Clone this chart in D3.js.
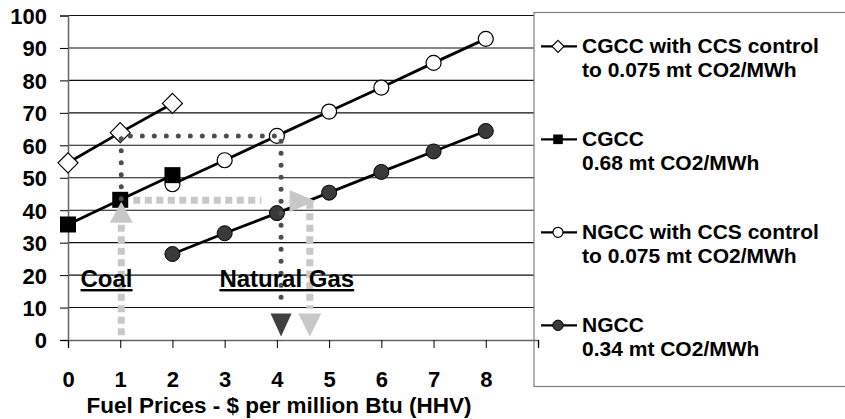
<!DOCTYPE html>
<html>
<head>
<meta charset="utf-8">
<script src="https://cdn.jsdelivr.net/npm/d3@7"></script>
<style>
  body { margin: 0; background: #fff; }
  svg text { font-family: Arial, "Liberation Sans", sans-serif; font-weight: bold; fill: #000; }
</style>
</head>
<body>
<svg id="chart" width="845" height="419"></svg>
<script>
// fuel price ($/million Btu) on x, cost of electricity on y
const coalPrices = [0, 1, 2];
const gasPrices = [2, 3, 4, 5, 6, 7, 8];
const cgccCcs = [54.6, 63.9, 72.9];
const cgcc = [35.6, 43.2, 50.8];
const ngccCcs = [48.0, 55.4, 62.9, 70.4, 77.8, 85.4, 92.8];
const ngcc = [26.5, 32.9, 39.1, 45.4, 51.8, 58.1, 64.4];

const yTicks = [0, 10, 20, 30, 40, 50, 60, 70, 80, 90, 100];
const xTicks = [0, 1, 2, 3, 4, 5, 6, 7, 8, 9];

const seriesNames = [
  ["CGCC with CCS control", "to 0.075 mt CO2/MWh"],
  ["CGCC", "0.68 mt CO2/MWh"],
  ["NGCC with CCS control", "to 0.075 mt CO2/MWh"],
  ["NGCC", "0.34 mt CO2/MWh"]
];

// break-even annotation paths, in chart units
const coalSwitchPath = [[1.02, 43.5], [1.02, 62.9], [4.08, 62.9], [4.08, 9.6]];
const coalUpPath = [[1.02, 1.5], [1.02, 37.5]];
const gasAcrossPath = [[1.25, 43.1], [3.7, 43.1]];
const gasDownPath = [[4.63, 42.6], [4.63, 9.6]];
const annotationLabels = [["Coal", 0.24], ["Natural Gas", 2.9]];

const svg = d3.select("#chart");
const x = d3.scaleLinear().domain([0, 9]).range([68, 538]);
const y = d3.scaleLinear().domain([0, 100]).range([340, 15.5]);

// gridlines
svg.append("g")
  .selectAll("line")
  .data(yTicks.filter(d => d > 0))
  .join("line")
  .attr("x1", x(0)).attr("x2", x(9))
  .attr("y1", d => y(d)).attr("y2", d => y(d))
  .attr("stroke", "#111").attr("stroke-width", 1.1);

// y axis
const yAxis = svg.append("g")
  .attr("transform", `translate(${x(0)},0)`)
  .call(d3.axisLeft(y).tickValues(yTicks).tickSize(8).tickPadding(13));
yAxis.select(".domain").attr("stroke", "#666").attr("stroke-width", 1.5);
yAxis.selectAll(".tick line").attr("stroke", "#000");
yAxis.selectAll("text").attr("font-size", 22).attr("dy", "0.36em")
  .attr("font-family", "Arial, 'Liberation Sans', sans-serif").attr("font-weight", "bold").attr("fill", "#000");

const line = d3.line().x(d => x(d[0])).y(d => y(d[1]));
const pairs = (xs, ys) => xs.map((v, i) => [v, ys[i]]);

// series lines
[pairs(gasPrices, ngcc), pairs(gasPrices, ngccCcs), pairs(coalPrices, cgccCcs), pairs(coalPrices, cgcc)]
  .forEach(pts => {
    svg.append("path").attr("d", line(pts))
      .attr("fill", "none").attr("stroke", "#000").attr("stroke-width", 2.8);
  });

// markers
function drawMarker(g, kind, cx, cy, big) {
  const s = big ? 1 : 0.6;
  if (kind === "diamond") {
    const r = 10 * s;
    g.append("path")
      .attr("d", `M${cx},${cy - r}L${cx + r},${cy}L${cx},${cy + r}L${cx - r},${cy}Z`)
      .attr("fill", "#fff").attr("stroke", "#000").attr("stroke-width", 1.2);
  } else if (kind === "square") {
    const h = 8 * s;
    g.append("rect").attr("x", cx - h).attr("y", cy - h).attr("width", 2 * h).attr("height", 2 * h)
      .attr("fill", "#000");
  } else if (kind === "open") {
    g.append("circle").attr("cx", cx).attr("cy", cy).attr("r", big ? 7.5 : 5)
      .attr("fill", "#fff").attr("stroke", "#000").attr("stroke-width", 1.2);
  } else {
    g.append("circle").attr("cx", cx).attr("cy", cy).attr("r", big ? 7.5 : 5.2)
      .attr("fill", "#3a3a3a").attr("stroke", "#000").attr("stroke-width", 1);
  }
}
const markers = svg.append("g");
pairs(gasPrices, ngcc).forEach(d => drawMarker(markers, "filled", x(d[0]), y(d[1]), true));
pairs(gasPrices, ngccCcs).forEach(d => drawMarker(markers, "open", x(d[0]), y(d[1]), true));
pairs(coalPrices, cgccCcs).forEach(d => drawMarker(markers, "diamond", x(d[0]), y(d[1]), true));
pairs(coalPrices, cgcc).forEach(d => drawMarker(markers, "square", x(d[0]), y(d[1]), true));

// annotation arrows
const arrowHead = (cx, cy, dir, w, h) => {
  if (dir === "down") return `M${cx - w / 2},${cy - h}L${cx + w / 2},${cy - h}L${cx},${cy}Z`;
  if (dir === "up") return `M${cx - w / 2},${cy + h}L${cx + w / 2},${cy + h}L${cx},${cy}Z`;
  return `M${cx - h},${cy - w / 2}L${cx - h},${cy + w / 2}L${cx},${cy}Z`;
};
const light = "#c8c8c8", dark = "#4d4d4d";

[coalUpPath, gasAcrossPath, gasDownPath].forEach(p => {
  svg.append("path").attr("d", line(p))
    .attr("fill", "none").attr("stroke", light).attr("stroke-width", 7)
    .attr("stroke-dasharray", "7 4.5");
});
svg.append("path").attr("d", line(coalSwitchPath))
  .attr("fill", "none").attr("stroke", dark).attr("stroke-width", 5)
  .attr("stroke-linecap", "round").attr("stroke-dasharray", "0 12");

svg.append("path").attr("d", arrowHead(x(coalUpPath[1][0]), y(42.6), "up", 23, 21)).attr("fill", light);
svg.append("path").attr("d", arrowHead(x(4.74), y(42.8), "right", 22, 26)).attr("fill", light);
svg.append("path").attr("d", arrowHead(x(gasDownPath[1][0]), y(1.1), "down", 23, 23)).attr("fill", light);
svg.append("path").attr("d", arrowHead(x(coalSwitchPath[3][0]), y(1.1), "down", 21, 23)).attr("fill", "#404040");

// labels under the arrows
svg.append("g").selectAll("text")
  .data(annotationLabels)
  .join("text")
  .attr("x", d => x(d[1])).attr("y", 287)
  .attr("font-size", 24)
  .attr("text-decoration", "underline")
  .text(d => d[0]);

// legend box
const legend = svg.append("g");
legend.append("rect")
  .attr("x", 534).attr("y", 12.5).attr("width", 400).attr("height", 374)
  .attr("fill", "#fff").attr("stroke", "#808080").attr("stroke-width", 1.2);

// x axis (drawn after legend so its end tick pokes in)
const xAxis = svg.append("g")
  .attr("transform", `translate(0,${y(0)})`)
  .call(d3.axisBottom(x).tickValues(xTicks).tickSize(8).tickPadding(24)
    .tickFormat(d => d === 9 ? "" : d));
xAxis.select(".domain").attr("stroke", "#666").attr("stroke-width", 1.5);
xAxis.selectAll(".tick line").attr("stroke", "#000");
xAxis.selectAll("text").attr("font-size", 22).attr("dy", "0")
  .attr("y", 387)
  .attr("font-family", "Arial, 'Liberation Sans', sans-serif").attr("font-weight", "bold").attr("fill", "#000")
  .attr("transform", `translate(0,${-y(0)})`);

svg.append("text")
  .attr("x", 279).attr("y", 413)
  .attr("text-anchor", "middle").attr("font-size", 22.5)
  .text("Fuel Prices - $ per million Btu (HHV)");

// legend entries
const legendKinds = ["diamond", "square", "open", "filled"];
const legendRow = d3.scaleLinear().domain([0, 3]).range([53.3, 332.3]);
seriesNames.forEach((names, i) => {
  const base = legendRow(i);
  const ly = base - 7;
  legend.append("line").attr("x1", 541).attr("x2", 577).attr("y1", ly).attr("y2", ly)
    .attr("stroke", "#000").attr("stroke-width", 2.2);
  drawMarker(legend, legendKinds[i], 558, ly, false);
  legend.append("text").attr("x", 582).attr("y", base).attr("font-size", 21).text(names[0]);
  legend.append("text").attr("x", 582).attr("y", base + 24).attr("font-size", 21).text(names[1]);
});
</script>
</body>
</html>
